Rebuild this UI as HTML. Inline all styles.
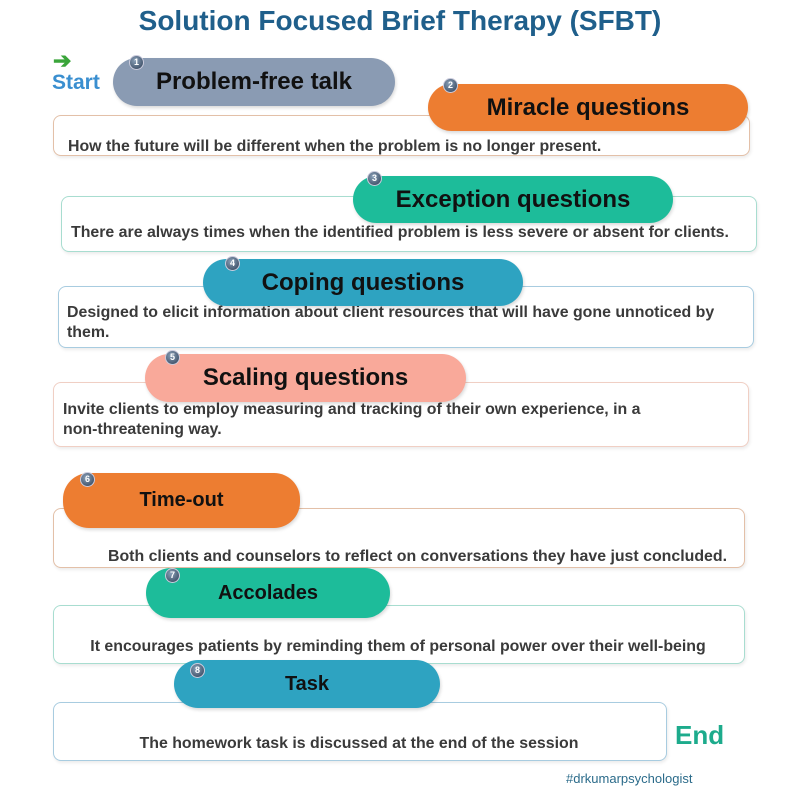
<!DOCTYPE html><html><head><style>
body{margin:0;width:800px;height:800px;background:#fff;position:relative;font-family:"Liberation Sans",sans-serif;overflow:hidden}
.a{position:absolute}
.box{position:absolute;border:1px solid;border-radius:8px;background:#fff;box-shadow:1px 2px 3px rgba(0,0,0,.08)}
.pill{position:absolute;border-radius:26px;display:flex;align-items:center;justify-content:center;font-weight:bold;color:#111;box-shadow:1px 2px 3px rgba(0,0,0,.15)}
.n{position:absolute;width:13px;height:13px;border-radius:50%;background:radial-gradient(circle at 40% 35%,#8aa0b8,#2d3e55);color:#fff;font-size:9px;font-weight:bold;text-align:center;line-height:13px;border:1px solid #ccd}
.t{position:absolute;font-size:15.9px;font-weight:bold;color:#3a3a3a;line-height:20px;white-space:nowrap}
</style></head><body>
<div class="a" style="left:0;width:800px;top:5px;text-align:center;font-size:28px;font-weight:bold;color:#1f5f8b">Solution Focused Brief Therapy (SFBT)</div>
<div class="a" style="left:53px;top:48px;color:#3aa53a;font-size:22px;font-weight:bold">➔</div>
<div class="a" style="left:52px;top:71px;color:#3a8fd0;font-size:21px;font-weight:bold">Start</div>

<div class="box" style="left:53px;top:115px;width:695px;height:39px;border-color:#e3c0a8"></div>
<div class="t" style="left:68px;top:137px">How the future will be different when the problem is no longer present.</div>
<div class="pill" style="left:113px;top:58px;width:282px;height:48px;background:#8a9bb3;font-size:24px">Problem-free talk</div>
<div class="n" style="left:129px;top:55px">1</div>
<div class="pill" style="left:428px;top:84px;width:320px;height:47px;background:#ed7d31;font-size:24px">Miracle questions</div>
<div class="n" style="left:443px;top:78px">2</div>

<div class="box" style="left:61px;top:196px;width:694px;height:54px;border-color:#a8ddd0"></div>
<div class="t" style="left:71px;top:223px">There are always times when the identified problem is less severe or absent for clients.</div>
<div class="pill" style="left:353px;top:176px;width:320px;height:47px;background:#1dbc9a;font-size:24px">Exception questions</div>
<div class="n" style="left:367px;top:171px">3</div>

<div class="box" style="left:58px;top:286px;width:694px;height:60px;border-color:#a8cce0"></div>
<div class="t" style="left:67px;top:303px">Designed to elicit information about client resources that will have gone unnoticed by<br>them.</div>
<div class="pill" style="left:203px;top:259px;width:320px;height:47px;background:#2ea3c1;font-size:24px">Coping questions</div>
<div class="n" style="left:225px;top:256px">4</div>

<div class="box" style="left:53px;top:382px;width:694px;height:63px;border-color:#f0cfc4"></div>
<div class="t" style="left:63px;top:400px">Invite clients to employ measuring and tracking of their own experience, in a<br>non-threatening way.</div>
<div class="pill" style="left:145px;top:354px;width:321px;height:48px;background:#f9a99a;font-size:24px">Scaling questions</div>
<div class="n" style="left:165px;top:350px">5</div>

<div class="box" style="left:53px;top:508px;width:690px;height:58px;border-color:#e3c0a8"></div>
<div class="t" style="left:108px;top:547px">Both clients and counselors to reflect on conversations they have just concluded.</div>
<div class="pill" style="left:63px;top:473px;width:237px;height:55px;background:#ed7d31;font-size:20px">Time-out</div>
<div class="n" style="left:80px;top:472px">6</div>

<div class="box" style="left:53px;top:605px;width:690px;height:57px;border-color:#a8ddd0"></div>
<div class="t" style="left:53px;width:690px;text-align:center;top:637px">It encourages patients by reminding them of personal power over their well-being</div>
<div class="pill" style="left:146px;top:568px;width:244px;height:50px;background:#1dbc9a;font-size:20px">Accolades</div>
<div class="n" style="left:165px;top:568px">7</div>

<div class="box" style="left:53px;top:702px;width:612px;height:57px;border-color:#a8cce0"></div>
<div class="t" style="left:53px;width:612px;text-align:center;top:734px">The homework task is discussed at the end of the session</div>
<div class="pill" style="left:174px;top:660px;width:266px;height:48px;background:#2ea3c1;font-size:20px">Task</div>
<div class="n" style="left:190px;top:663px">8</div>

<div class="a" style="left:675px;top:720px;color:#1dab8c;font-size:26px;font-weight:bold">End</div>
<div class="a" style="left:566px;top:771px;color:#2b6b8a;font-size:13px">#drkumarpsychologist</div>
</body></html>
